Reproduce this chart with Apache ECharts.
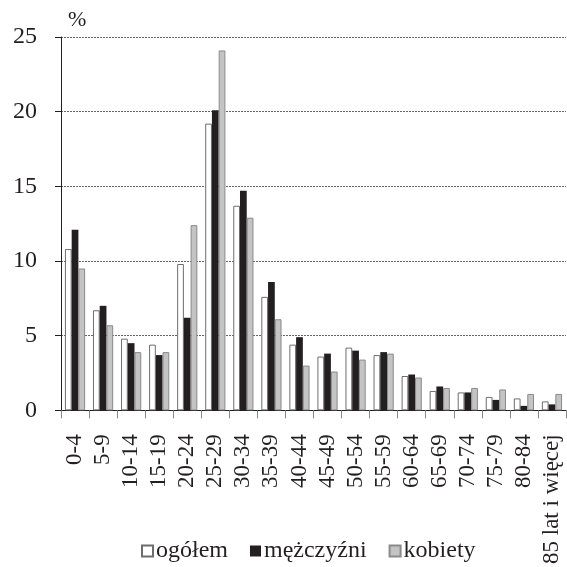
<!DOCTYPE html>
<html>
<head>
<meta charset="utf-8">
<script src="https://cdn.jsdelivr.net/npm/echarts@6/dist/echarts.min.js"></script>
<style>html,body{margin:0;padding:0;background:#fff}#c{width:567px;height:567px}</style>
</head>
<body>
<div id="c"></div>
<script>
const categories = ['0-4','5-9','10-14','15-19','20-24','25-29','30-34','35-39','40-44','45-49','50-54','55-59','60-64','65-69','70-74','75-79','80-84','85 lat i więcej'];
const ogolem     = [10.8, 6.7, 4.8, 4.4, 9.8, 19.2, 13.7, 7.6, 4.4, 3.6, 4.2, 3.7, 2.3, 1.3, 1.2, 0.9, 0.8, 0.6];
const mezczyzni  = [12.1, 7.0, 4.5, 3.7, 6.2, 20.1, 14.7, 8.6, 4.9, 3.8, 4.0, 3.9, 2.4, 1.6, 1.2, 0.7, 0.3, 0.4];
const kobiety    = [9.5, 5.7, 3.9, 3.9, 12.4, 24.1, 12.9, 6.1, 3.0, 2.6, 3.4, 3.8, 2.2, 1.5, 1.5, 1.4, 1.1, 1.1];
const yTicks = [0, 5, 10, 15, 20, 25];

const font = 'Liberation Serif';
const chart = echarts.init(document.getElementById('c'), null, {renderer: 'canvas'});
chart.setOption({
  animation: false,
  textStyle: {fontFamily: font},
  grid: {left: 61, right: 1, top: 37, bottom: 154, containLabel: false},
  legend: {
    data: ['ogółem', 'mężczyźni', 'kobiety'],
    left: 136, top: 534,
    icon: 'rect', itemWidth: 11, itemHeight: 11, itemGap: 22,
    textStyle: {fontFamily: font, fontSize: 24, color: '#231f20', padding: [0, 0, 0, -2]}
  },
  xAxis: {
    type: 'category',
    data: categories,
    axisLine: {lineStyle: {color: '#231f20', width: 1}},
    axisTick: {show: true, length: 8, lineStyle: {color: '#888'}},
    axisLabel: {rotate: 90, interval: 0, margin: 24, fontFamily: font, fontSize: 23, color: '#231f20'}
  },
  yAxis: {
    type: 'value',
    min: yTicks[0], max: yTicks[yTicks.length - 1], interval: 5,
    name: '%',
    nameLocation: 'end',
    nameGap: 6,
    nameTextStyle: {fontFamily: font, fontSize: 22, color: '#231f20', align: 'left', padding: [0, 0, 0, 7]},
    axisLine: {show: true, lineStyle: {color: '#231f20', width: 1}},
    axisTick: {show: true, length: 6, lineStyle: {color: '#231f20'}},
    axisLabel: {margin: 24, fontFamily: font, fontSize: 24, color: '#231f20'},
    splitLine: {show: true, lineStyle: {color: '#666', type: [2, 1], width: 1}}
  },
  series: [
    {name: 'ogółem', type: 'bar', data: ogolem, barGap: '0%', barCategoryGap: '28%',
     itemStyle: {color: '#ffffff', borderColor: '#6d6d6d', borderWidth: 1}},
    {name: 'mężczyźni', type: 'bar', data: mezczyzni, barGap: '0%', barCategoryGap: '28%',
     itemStyle: {color: '#231f20', borderColor: '#231f20', borderWidth: 0}},
    {name: 'kobiety', type: 'bar', data: kobiety, barGap: '0%', barCategoryGap: '28%',
     itemStyle: {color: '#c4c4c4', borderColor: '#8a8a8a', borderWidth: 1}}
  ]
});
</script>
</body>
</html>
